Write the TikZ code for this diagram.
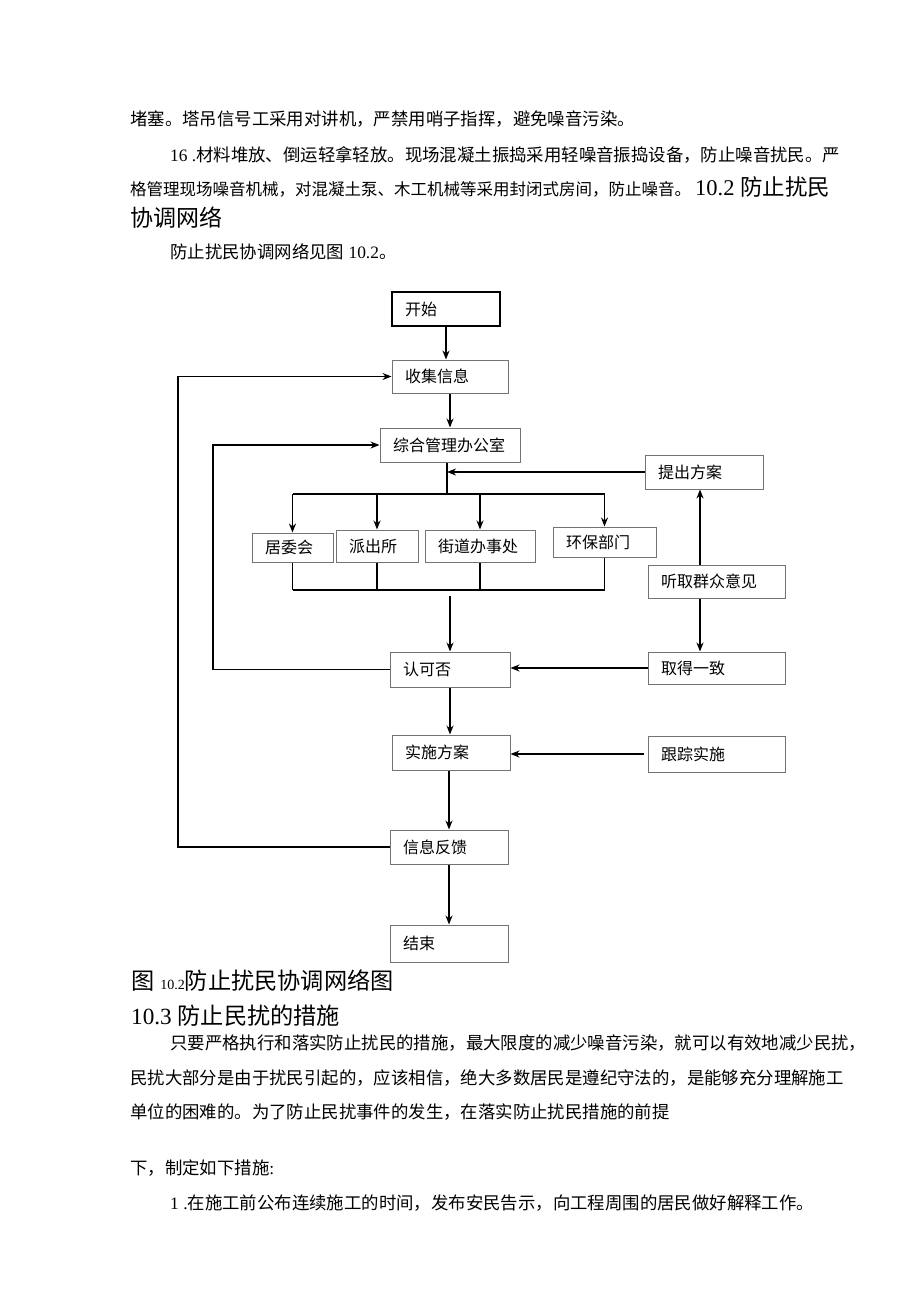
\documentclass[tikz,border=0pt]{standalone}
\usepackage{fontspec}
\setmainfont{Liberation Serif}
\newfontfamily\cjk{Noto Sans CJK SC}
\usetikzlibrary{arrows.meta}
\begin{document}
\begin{tikzpicture}[x=1pt,y=-1pt,
  box/.style={draw=black!55, line width=1pt, inner xsep=13pt, inner ysep=0pt, align=left,
    font=\cjk\fontsize{16pt}{16pt}\selectfont},
  arr/.style={line width=1.5pt, -{Stealth[length=9pt,width=7pt]}},
  ln/.style={line width=1.2pt},
  body/.style={anchor=west, inner sep=0pt, font=\cjk\fontsize{17.4pt}{17.4pt}\selectfont},
  head/.style={anchor=west, inner sep=0pt, font=\cjk\fontsize{23pt}{23pt}\selectfont}]
\fill[white] (0,0) rectangle (920,1301);
\useasboundingbox (0,0) rectangle (920,1301);

% ---- text above ----
\node[body] (t1) at (130,119) {堵塞。塔吊信号工采用对讲机，严禁用哨子指挥，避免噪音污染。};
\node[body] (t2) at (170,155) {{\rmfamily 16 .}材料堆放、倒运轻拿轻放。现场混凝土振捣采用轻噪音振捣设备，防止噪音扰民。严};
\node[body, font=\cjk\fontsize{16.5pt}{16.5pt}\selectfont] (t3) at (130,187) {格管理现场噪音机械，对混凝土泵、木工机械等采用封闭式房间，防止噪音。\hspace{4pt}{\fontsize{22.5pt}{22.5pt}\selectfont{\rmfamily 10.2 }防止扰民}};
\node[head] (t4) at (130,218) {协调网络};
\node[body] (t5) at (170,252) {防止扰民协调网络见图{\rmfamily\ 10.2}。};

% ---- boxes ----
\node[box, draw=black, line width=1.3pt, text width=82pt, minimum height=34pt] (ks) at (446,309) {开始};
\node[box, text width=90pt, minimum height=33pt] (sj) at (450,376.5) {收集信息};
\node[box, text width=114pt, minimum height=34pt] (zh) at (450,445) {综合管理办公室};
\node[box, text width=92pt, minimum height=34pt] (tc) at (704,472) {提出方案};
\node[box, text width=55pt, minimum height=29pt] (jw) at (292.5,547.5) {居委会};
\node[box, text width=56pt, minimum height=32pt] (pc) at (377,546) {派出所};
\node[box, text width=84pt, minimum height=32pt] (jd) at (480,546) {街道办事处};
\node[box, text width=77pt, minimum height=30pt] (hb) at (604.5,542) {环保部门};
\node[box, text width=111pt, minimum height=33pt] (tq) at (716.5,581.5) {听取群众意见};
\node[box, text width=94pt, minimum height=35pt] (rk) at (450,669.5) {认可否};
\node[box, text width=111pt, minimum height=32pt] (qd) at (716.5,668) {取得一致};
\node[box, text width=92pt, minimum height=35pt] (ss) at (451,752.5) {实施方案};
\node[box, text width=111pt, minimum height=36pt] (gz) at (716.5,754) {跟踪实施};
\node[box, text width=92pt, minimum height=34pt] (xx) at (449,847) {信息反馈};
\node[box, text width=92pt, minimum height=37pt] (js) at (449,943.5) {结束};

% ---- helper coordinates ----
\coordinate (bt) at (447,494);
\coordinate (bb) at (450,590);
\coordinate (bb2) at (450,596);
\coordinate (Lo) at (178,0);
\coordinate (Li) at (213,0);
\coordinate (vx) at (700,0);

% ---- connectors ----
\draw[arr] (ks.south) -- (ks.south |- sj.north);
\draw[arr] (sj.south) -- (sj.south |- zh.north);
\draw[ln] (zh.south -| bt) -- (bt);
\draw[ln] (jw.north |- bt) -- (hb.north |- bt);
\foreach \n in {jw,pc,jd,hb} \draw[arr] (\n.north |- bt) -- (\n.north);
\draw[arr] (tc.west) -- (tc.west -| bt);
\foreach \n in {jw,pc,jd,hb} \draw[ln] (\n.south) -- (\n.south |- bb);
\draw[ln] (jw.south |- bb) -- (hb.south |- bb);
\draw[arr] (bb2) -- (rk.north);
\draw[arr] (qd.west) -- (qd.west -| rk.east);
\draw[arr] (tq.north -| vx) -- (tc.south -| vx);
\draw[arr] (tq.south -| vx) -- (qd.north -| vx);
\draw[arr] (rk.south) -- (rk.south |- ss.north);
\draw[arr] ([xshift=-4pt]gz.west) -- (gz.west -| ss.east);
\draw[arr] (ss.south -| xx.south) -- (xx.north);
\draw[arr] (xx.south) -- (js.north);
\draw[arr, line width=1.3pt] (xx.west) -- (xx.west -| Lo) -- (sj.west -| Lo) -- (sj.west);
\draw[arr, line width=1.3pt] (rk.west) -- (rk.west -| Li) -- (zh.west -| Li) -- (zh.west);

% ---- text below ----
\node[head, anchor=base west, font=\cjk\fontsize{23.2pt}{23.2pt}\selectfont] (c1) at (131,989) {图\hspace{6pt}{\rmfamily\fontsize{14pt}{14pt}\selectfont 10.2}防止扰民协调网络图};
\node[head, anchor=base west, font=\cjk\fontsize{23.2pt}{23.2pt}\selectfont] (c2) at (131,1024) {{\rmfamily 10.3 }防止民扰的措施};
\node[body] (p1) at (170,1043) {只要严格执行和落实防止扰民的措施，最大限度的减少噪音污染，就可以有效地减少民扰，};
\node[body] (p2) at (130,1078) {民扰大部分是由于扰民引起的，应该相信，绝大多数居民是遵纪守法的，是能够充分理解施工};
\node[body] (p3) at (130,1112) {单位的困难的。为了防止民扰事件的发生，在落实防止扰民措施的前提};
\node[body] (p4) at (130,1168) {下，制定如下措施{\rmfamily :}};
\node[body] (p5) at (170,1203) {{\rmfamily 1 .}在施工前公布连续施工的时间，发布安民告示，向工程周围的居民做好解释工作。};
\end{tikzpicture}
\end{document}
